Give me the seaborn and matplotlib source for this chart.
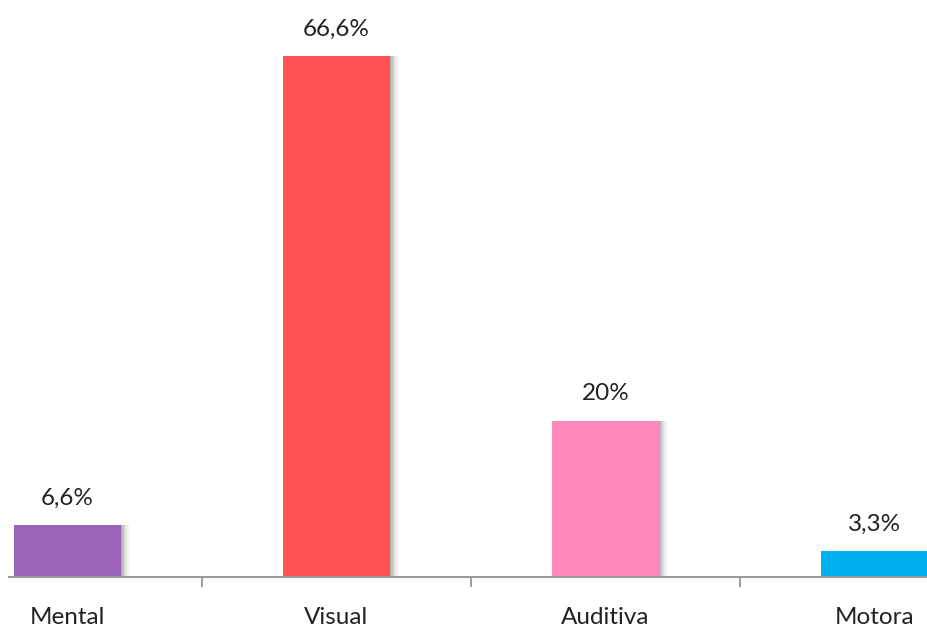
import matplotlib
matplotlib.use("Agg")
import matplotlib.pyplot as plt
import seaborn as sns
import pandas as pd

categorias = ["Mental", "Visual", "Auditiva", "Motora"]
valores = [6.6, 66.6, 20, 3.3]
rotulos = ["6,6%", "66,6%", "20%", "3,3%"]
cores = ["#9B64B9", "#FF5152", "#FF88BA", "#00B0F0"]

df = pd.DataFrame({"categoria": categorias, "valor": valores})

sns.set_theme(style="white")
plt.rcParams["font.family"] = ["Lato", "DejaVu Sans"]

W, H = 928, 627
fig = plt.figure(figsize=(W / 100, H / 100), dpi=100)
ax = fig.add_axes([9 / W, 50 / H, (W - 9) / W, 577 / H])

largura = 0.398

# soft drop shadow to the right of each bar
for i, v in enumerate(valores):
    for k, a in enumerate([0.16, 0.12, 0.09, 0.06, 0.04, 0.03, 0.02]):
        ax.bar(i + 0.005 * (k + 1), v, width=largura, color="#444444",
               alpha=a, linewidth=0, zorder=1)

sns.barplot(data=df, x="categoria", y="valor", hue="categoria",
            palette=cores, width=largura, saturation=1, legend=False,
            ax=ax, zorder=2, linewidth=0)

for i, (v, t) in enumerate(zip(valores, rotulos)):
    ax.text(i, v + 3.4, t, ha="center", va="center", fontsize=17.5,
            color="#222222")

ax.set_xlim(-0.2175, 3.199)
ax.set_ylim(0, 577 / 7.823)
ax.set_xlabel("")
ax.set_ylabel("")
ax.set_yticks([])

ax.set_xticks([0.5, 1.5, 2.5], minor=False)
ax.set_xticklabels([])
ax.tick_params(axis="x", which="major", direction="out", length=7,
               width=1.2, color="#8c8c8c", bottom=True)
for i, c in enumerate(categorias):
    ax.text(i, -5.2, c, ha="center", va="center", fontsize=17.5,
            color="#222222", clip_on=False)

for s in ["top", "right", "left"]:
    ax.spines[s].set_visible(False)
ax.spines["bottom"].set_color("#9a9a9a")
ax.spines["bottom"].set_linewidth(1.5)

fig.savefig("out.png", dpi=100)
